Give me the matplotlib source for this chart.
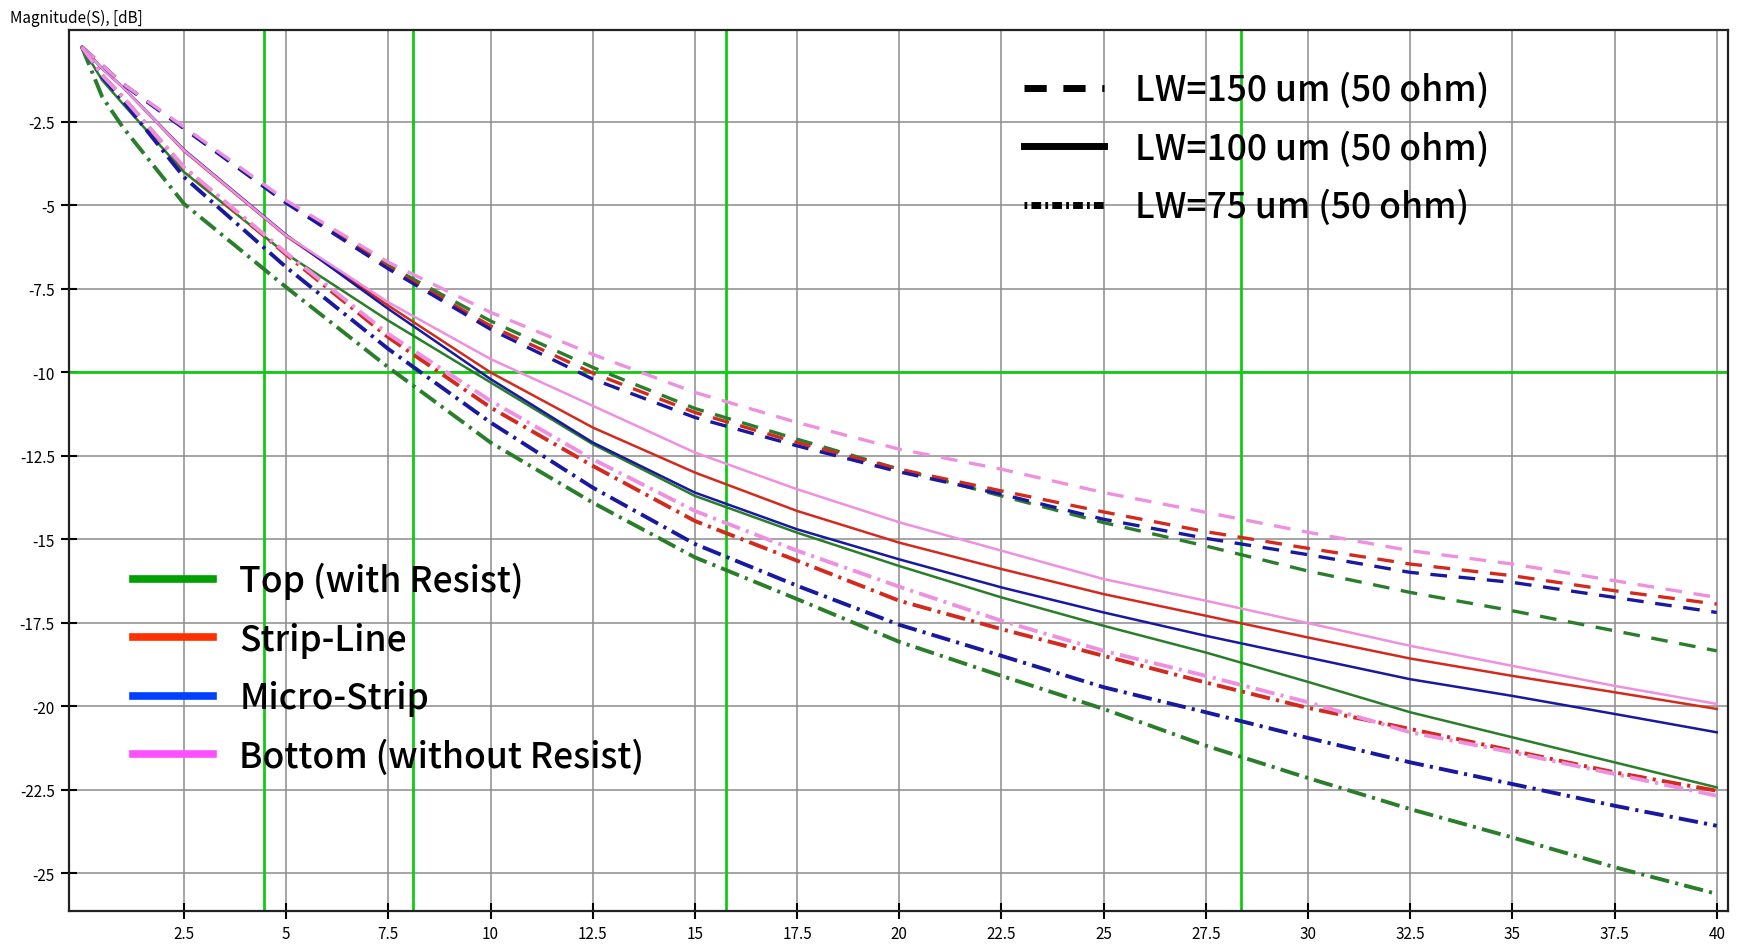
import numpy as np
import matplotlib
matplotlib.use("Agg")
import matplotlib.pyplot as plt
from matplotlib.lines import Line2D

plt.rcParams['font.family'] = ['Noto Sans CJK JP', 'DejaVu Sans']
plt.rcParams['axes.unicode_minus'] = False

# frequency points
freq = [0, 0.5, 1, 2.5, 5, 7.5, 10, 12.5, 15, 17.5, 20, 22.5, 25, 27.5, 30, 32.5, 35, 37.5, 40]

# LW=150 um (dashed)
top_150 = [-0.25, -0.8, -1.35, -2.68, -4.9, -6.8, -8.46, -9.85, -11.08, -12.0, -12.9, -13.7, -14.5, -15.2, -15.95, -16.59, -17.14, -17.74, -18.34]
strip_150 = [-0.25, -0.8, -1.35, -2.68, -4.9, -6.85, -8.61, -10.02, -11.2, -12.1, -12.9, -13.55, -14.18, -14.77, -15.27, -15.74, -16.09, -16.54, -16.94]
micro_150 = [-0.25, -0.8, -1.37, -2.7, -4.93, -6.9, -8.71, -10.2, -11.35, -12.2, -12.98, -13.65, -14.4, -14.97, -15.46, -15.99, -16.29, -16.74, -17.19]
bottom_150 = [-0.25, -0.8, -1.35, -2.65, -4.85, -6.7, -8.2, -9.46, -10.6, -11.5, -12.3, -12.9, -13.6, -14.19, -14.79, -15.34, -15.74, -16.24, -16.74]

# LW=100 um (solid)
top_100 = [-0.25, -1.25, -1.95, -4.0, -6.45, -8.45, -10.3, -12.15, -13.7, -14.8, -15.8, -16.74, -17.59, -18.39, -19.27, -20.18, -20.93, -21.68, -22.43]
strip_100 = [-0.25, -0.9, -1.45, -3.37, -5.92, -8.0, -10.0, -11.65, -13.0, -14.15, -15.1, -15.89, -16.64, -17.29, -17.94, -18.57, -19.09, -19.58, -20.08]
micro_100 = [-0.25, -0.9, -1.45, -3.33, -5.88, -8.1, -10.2, -12.1, -13.6, -14.7, -15.6, -16.44, -17.19, -17.89, -18.54, -19.19, -19.69, -20.23, -20.78]
bottom_100 = [-0.25, -0.9, -1.45, -3.35, -5.9, -7.9, -9.6, -11.0, -12.4, -13.5, -14.49, -15.34, -16.19, -16.84, -17.51, -18.19, -18.79, -19.39, -19.93]

# LW=75 um (dash-dot)
top_75 = [-0.25, -1.75, -2.65, -4.95, -7.45, -9.85, -12.1, -13.9, -15.54, -16.79, -18.07, -19.09, -20.08, -21.18, -22.15, -23.08, -23.93, -24.82, -25.62]
strip_75 = [-0.25, -1.1, -1.75, -3.87, -6.47, -8.95, -11.05, -12.8, -14.45, -15.64, -16.84, -17.69, -18.49, -19.29, -20.05, -20.68, -21.33, -21.98, -22.53]
micro_75 = [-0.25, -1.15, -1.85, -4.15, -6.85, -9.3, -11.5, -13.45, -15.14, -16.39, -17.56, -18.49, -19.43, -20.18, -20.95, -21.68, -22.33, -22.98, -23.58]
bottom_75 = [-0.25, -1.1, -1.75, -3.85, -6.42, -8.85, -10.85, -12.6, -14.15, -15.34, -16.42, -17.44, -18.34, -19.09, -19.88, -20.78, -21.38, -22.03, -22.68]

markers_x = [4.45, 8.1, 15.75, 28.35]
marker_y = -10

x_ticks = [2.5, 5, 7.5, 10, 12.5, 15, 17.5, 20, 22.5, 25, 27.5, 30, 32.5, 35, 37.5, 40]
y_ticks = [-2.5, -5, -7.5, -10, -12.5, -15, -17.5, -20, -22.5, -25]

type_names = ['Top (with Resist)', 'Strip-Line', 'Micro-Strip', 'Bottom (without Resist)']
width_names = ['LW=150 um (50 ohm)', 'LW=100 um (50 ohm)', 'LW=75 um (50 ohm)']

curve_colors = ['#2a7d2a', '#d42a1e', '#1818a0', '#ee90e0']
legend_colors = ['#00a000', '#ff3000', '#0040ff', '#ff50ff']

dash_style = (0, (5, 3.5))
dashdot_style = (0, (5, 1.6, 0.8, 1.6))

fig = plt.figure(figsize=(17.4, 9.45), dpi=100)
ax = fig.add_axes([0.0395, 0.035, 0.9535, 0.932])

series = {
    'dashed': [top_150, strip_150, micro_150, bottom_150],
    'solid': [top_100, strip_100, micro_100, bottom_100],
    'dashdot': [top_75, strip_75, micro_75, bottom_75],
}

for vals, c in zip(series['solid'], curve_colors):
    ax.plot(freq, vals, color=c, lw=1.8, zorder=3)
for vals, c in zip(series['dashed'], curve_colors):
    ax.plot(freq, vals, color=c, lw=2.4, linestyle=dash_style, zorder=3)
for vals, c in zip(series['dashdot'], curve_colors):
    ax.plot(freq, vals, color=c, lw=2.8, linestyle=dashdot_style, zorder=3)

for mx in markers_x:
    ax.axvline(mx, color='#10cc10', lw=2, zorder=2)
ax.axhline(marker_y, color='#10cc10', lw=2, zorder=2)

ax.set_xlim(-0.32, 40.27)
ax.set_ylim(-26.13, 0.25)
ax.set_xticks(x_ticks)
ax.set_yticks(y_ticks)
ax.set_xticklabels(['%g' % t for t in x_ticks])
ax.set_yticklabels(['%g' % t for t in y_ticks])
ax.grid(True, color='#8c8c8c', lw=1.1, zorder=1)
ax.tick_params(direction='inout', length=12, width=1.5, labelsize=11, colors='black', pad=4)
for s in ax.spines.values():
    s.set_linewidth(1.6)
    s.set_color('#222222')

fig.text(0.006, 0.981, 'Magnitude(S), [dB]', fontsize=11, va='center', ha='left')

leg_font = {'size': 25.5, 'weight': 'medium'}

h1 = [Line2D([], [], color=c, lw=5.5) for c in legend_colors]
leg1 = ax.legend(h1, type_names, loc='upper left', bbox_to_anchor=(0.028, 0.416),
                 frameon=False, prop=leg_font, handlelength=2.25, handletextpad=0.75,
                 labelspacing=0.63, borderpad=0)
ax.add_artist(leg1)

h2 = [Line2D([], [], color='black', lw=5, linestyle=(0, (3.2, 2.4))),
      Line2D([], [], color='black', lw=5),
      Line2D([], [], color='black', lw=5, linestyle=(0, (0.4, 0.6, 1.4, 0.6)))]
ax.legend(h2, width_names, loc='upper left', bbox_to_anchor=(0.565, 0.973),
          frameon=False, prop=leg_font, handlelength=2.25, handletextpad=0.88,
          labelspacing=0.63, borderpad=0)

fig.savefig('out.png', dpi=100)
